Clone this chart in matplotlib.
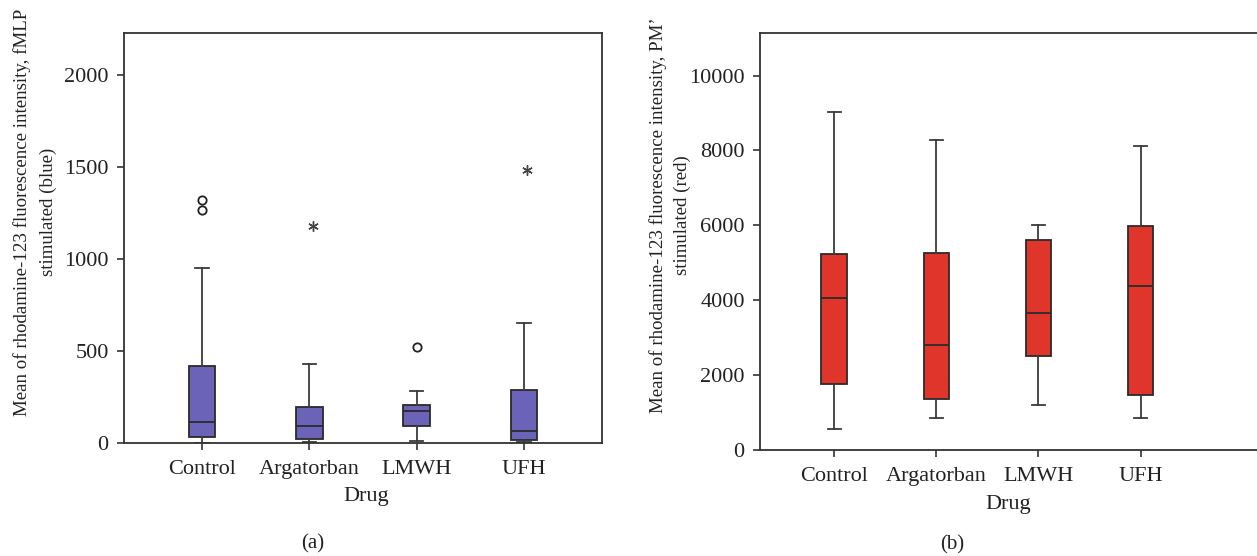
import matplotlib
matplotlib.use("Agg")
import matplotlib.pyplot as plt

plt.rcParams['font.family'] = ['Liberation Serif', 'DejaVu Serif']

# ---------------- data ----------------
drugs = ["Control", "Argatorban", "LMWH", "UFH"]

# (a) fMLP stimulated (blue)
a_whislo = [2, 5, 9, 4]
a_q1 = [31, 20, 92, 16]
a_med = [114, 91, 176, 65]
a_q3 = [418, 194, 205, 290]
a_whishi = [949, 431, 283, 654]
a_circles = [[1321, 1266], [], [523], []]      # mild outliers
a_stars = [[], [1181], [], [1484]]             # extreme values

# (b) PMA stimulated (red)
b_whislo = [561, 846, 1202, 863]
b_q1 = [1762, 1370, 2519, 1460]
b_med = [4050, 2795, 3667, 4379]
b_q3 = [5234, 5269, 5607, 5981]
b_whishi = [9017, 8286, 6008, 8126]

W, H = 1257, 556
fig = plt.figure(figsize=(W / 100, H / 100), dpi=100)

def px_axes(x0, x1, y0, y1):
    return fig.add_axes([x0 / W, 1 - y1 / H, (x1 - x0) / W, (y1 - y0) / H])

def draw_panel(ax, lo, q1, med, q3, hi, color):
    stats = []
    for i in range(len(drugs)):
        stats.append(dict(whislo=lo[i], q1=q1[i], med=med[i], q3=q3[i],
                          whishi=hi[i], fliers=[], label=drugs[i]))
    ax.bxp(stats, positions=range(1, len(drugs) + 1), widths=0.25,
           patch_artist=True, showfliers=False,
           boxprops=dict(facecolor=color, edgecolor="#2a2a2a", linewidth=1.3),
           medianprops=dict(color="#2a2a2a", linewidth=1.3),
           whiskerprops=dict(color="#3a3a3a", linewidth=1.3),
           capprops=dict(color="#3a3a3a", linewidth=1.3),
           capwidths=0.125)
    for s in ax.spines.values():
        s.set_color("#333333")
        s.set_linewidth(1.3)
    ax.tick_params(direction="out", length=5, width=1.2, color="#333333",
                   labelsize=16, labelcolor="#222222", pad=6)
    ax.tick_params(axis="x", pad=7)

# ---------------- panel (a) ----------------
ax1 = px_axes(124, 602, 33, 443)
draw_panel(ax1, a_whislo, a_q1, a_med, a_q3, a_whishi, "#6b63b8")
for i in range(len(drugs)):
    if a_circles[i]:
        ax1.plot([i + 1] * len(a_circles[i]), a_circles[i], linestyle="none",
                 marker="o", markersize=6, markerfacecolor="white",
                 markeredgecolor="#222222", markeredgewidth=1.3)
    if a_stars[i]:
        ax1.plot([i + 1.03] * len(a_stars[i]), a_stars[i], linestyle="none",
                 marker=(6, 2, 0), markersize=7.5, markeredgecolor="#444444",
                 markeredgewidth=1.0)
ax1.set_xlim(0.274, 4.726)
ax1.set_ylim(0, 2228)
ax1.set_yticks([0, 500, 1000, 1500, 2000])
ax1.set_xticks(range(1, 5), drugs)

# ---------------- panel (b) ----------------
ax2 = px_axes(760, 1262, 33, 450)
draw_panel(ax2, b_whislo, b_q1, b_med, b_q3, b_whishi, "#e0352b")
ax2.set_xlim(0.273, 5.19)
ax2.set_ylim(0, 11135)
ax2.set_yticks([0, 2000, 4000, 6000, 8000, 10000])
ax2.set_xticks(range(1, 5), drugs)

# ---------------- labels ----------------
tc = "#222222"
ylab_fs = 13.6
fig.text(22 / W, 1 - 212 / H, "Mean of rhodamine-123 fluorescence intensity, fMLP",
         rotation=90, ha="center", va="center", fontsize=ylab_fs, color=tc)
fig.text(48 / W, 1 - 212 / H, "stimulated (blue)",
         rotation=90, ha="center", va="center", fontsize=ylab_fs, color=tc)
fig.text(658 / W, 1 - 215 / H, "Mean of rhodamine-123 fluorescence intensity, PM\u2019",
         rotation=90, ha="center", va="center", fontsize=ylab_fs, color=tc)
fig.text(682 / W, 1 - 215 / H, "stimulated (red)",
         rotation=90, ha="center", va="center", fontsize=ylab_fs, color=tc)

fig.text(366 / W, 1 - 497 / H, "Drug", ha="center", va="center", fontsize=16, color=tc)
fig.text(1008 / W, 1 - 505 / H, "Drug", ha="center", va="center", fontsize=16, color=tc)
fig.text(313 / W, 1 - 544 / H, "(a)", ha="center", va="center", fontsize=15, color=tc)
fig.text(952 / W, 1 - 545 / H, "(b)", ha="center", va="center", fontsize=15, color=tc)

fig.savefig("out.png", dpi=100)
